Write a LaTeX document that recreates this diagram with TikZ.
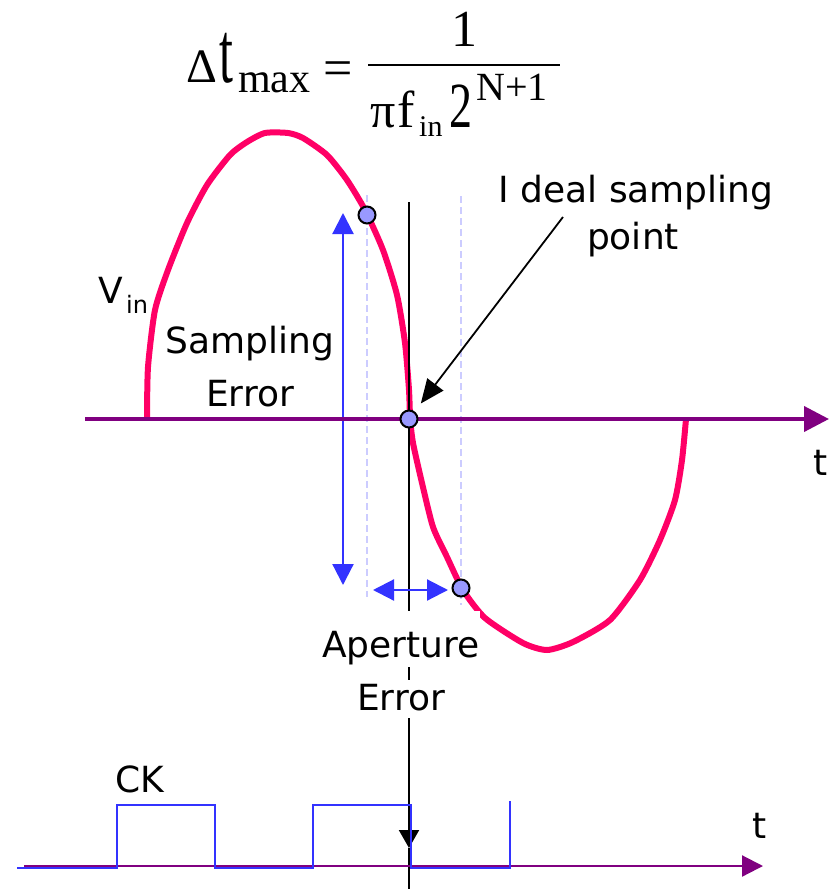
\documentclass[tikz,border=0pt]{standalone}
\usepackage{fontspec}
\setmainfont{DejaVu Sans}
\newfontfamily\eqfont{Liberation Serif}
\usepackage{graphicx}
\usetikzlibrary{arrows.meta}
\definecolor{vinPink}{HTML}{FF0066}
\definecolor{axisPurple}{HTML}{800080}
\definecolor{errBlue}{HTML}{3333FF}
\definecolor{dotFill}{HTML}{9999FF}
\definecolor{apertDash}{HTML}{CCCCFF}
\newcommand{\lblfont}{\fontsize{36}{44}\selectfont}
\newcommand{\eqsize}[1]{\eqfont\fontsize{#1}{#1}\selectfont}

\begin{document}
\begin{tikzpicture}[x=1pt, y=-1pt,
    lbl/.style={font=\lblfont, inner sep=0pt, anchor=base},
    eq/.style={font=\eqsize{#1}, inner sep=0pt, anchor=base west},
    wave/.style={draw=vinPink, line width=6pt, line join=round},
    axis/.style={draw=axisPurple, line width=#1},
    errarrow/.style={draw=errBlue, line width=2.2pt, {Triangle[length=21pt, width=21pt]}-{Triangle[length=21pt, width=21pt]}},
    guide/.style={draw=apertDash, line width=2pt, dash pattern=on 7pt off 4pt},
    dot/.style={circle, draw=black, line width=2pt, fill=dotFill, inner sep=0pt, minimum size=17pt},
    sampleline/.style={draw=black, line width=2pt},
    pointer/.style={draw=black, line width=1.8pt, -{Triangle[length=24pt, width=20pt]}, shorten >=10pt},
    clock/.style={draw=errBlue, line width=2.2pt},
  ]
  \useasboundingbox (0,0) rectangle (836,889);

  % Formula
  \node[eq=48] (delta) at (186,82) {Δ};
  \node[eq=50] (tsym) at (219,82) {\scalebox{1}[1.75]{t}};
  \node[eq=42] (tmax) at (238,92) {max};
  \node[eq=52, anchor=base] (eqsign) at (338,85) {=};
  \draw[line width=2pt] (368,65) -- (560,65);
  \node[eq=52, anchor=base] (numer) at (464,46) {1};
  \node[eq=50] (pisym) at (370,127) {π};
  \node[eq=52] (fsym) at (397,127) {f};
  \node[eq=30] (fin) at (419,136) {in};
  \node[eq=46] (two) at (449,127) {\scalebox{1}[1.4]{2}};
  \node[eq=40] (npow) at (476,100) {N+1};

  % Aperture window
  \coordinate (win-l-top) at (367,195);
  \coordinate (win-l-bot) at (367,597);
  \coordinate (win-r-top) at (461,196);
  \coordinate (win-r-bot) at (461,605);
  \draw[guide] (win-l-top) -- (win-l-bot);
  \draw[guide] (win-r-top) -- (win-r-bot);

  % Sampling error
  \coordinate (se-top) at (343,213);
  \coordinate (se-bot) at (343,585);
  \draw[errarrow] (se-top) -- (se-bot);

  % Input signal
  \draw[wave] plot[smooth, tension=0.4] coordinates {(147,419) (148,367) (155,310) (168,270)
    (187,223) (207,185) (230,155) (247,142) (265,133) (288,133) (303,138) (327,155)
    (347,180) (365,210) (383,250) (397,295) (405,343) (409,390) (410,419)};
  \draw[wave] plot[smooth, tension=0.4] coordinates {(410,419) (413,443) (422,483) (433,527)
    (447,557) (463,590) (485,618) (523,643) (547,650) (573,642) (610,620) (640,580)
    (660,540) (675,500) (682,460) (686,419)};

  % Time axis
  \coordinate (ax-0) at (85,419);
  \coordinate (ax-1) at (829,419);
  \draw[axis=4pt, -{Triangle[length=25pt, width=25pt]}] (ax-0) -- (ax-1);

  % Sampling instant
  \coordinate (ln-top) at (409,202);
  \coordinate (ck-tip) at (409,848);
  \coordinate (ln-bot) at (409,889);
  \draw[sampleline, -{Triangle[length=18pt, width=20pt]}] (ln-top) -- (ck-tip);
  \draw[sampleline] (ck-tip) -- (ln-bot);

  % Aperture error
  \coordinate (ap-l) at (373,590);
  \coordinate (ap-r) at (448,590);
  \draw[errarrow] (ap-l) -- (ap-r);

  % Samples
  \node[dot] (p1) at (367,215) {};
  \node[dot] (p0) at (409,419) {};
  \node[dot] (p2) at (461,588) {};

  \coordinate (ideal-foot) at (563,217);
  \draw[pointer] (ideal-foot) -- (p0);

  % Labels
  \node[lbl] (ideal1) at (636,202) {I deal sampling};
  \node[lbl] (ideal2) at (633,249) {point};
  \node[lbl] (vin) at (111,303) {V};
  \node[lbl, font=\fontsize{24}{28}\selectfont, anchor=base west] (vin-sub) at (126,313) {in};
  \node[lbl] (samp1) at (250,353) {Sampling};
  \node[lbl] (samp2) at (250,406) {Error};
  \node[lbl, fill=white, text height=46pt, text depth=10pt] (aper1) at (401,657) {Aperture};
  \node[lbl, fill=white, text height=30pt, text depth=8pt] (aper2) at (401,710) {Error};
  \node[lbl] (t-top) at (821,475) {t};

  % Clock
  \coordinate (ck-ax0) at (24,866);
  \coordinate (ck-ax1) at (763,866);
  \draw[axis=2.2pt, -{Triangle[length=21pt, width=21pt]}] (ck-ax0) -- (ck-ax1);
  \coordinate (ck-0) at (17,868);
  \draw[clock] (ck-0) -- ++(100,0) -- ++(0,-63) -- ++(98,0) -- ++(0,63) -- ++(98,0)
    -- ++(0,-63) -- ++(98,0) -- ++(0,63) -- ++(99,0) -- ++(0,-67);
  \node[lbl] (ck-lbl) at (140,792) {CK};
  \node[lbl] (t-bot) at (760,838) {t};
\end{tikzpicture}
\end{document}
